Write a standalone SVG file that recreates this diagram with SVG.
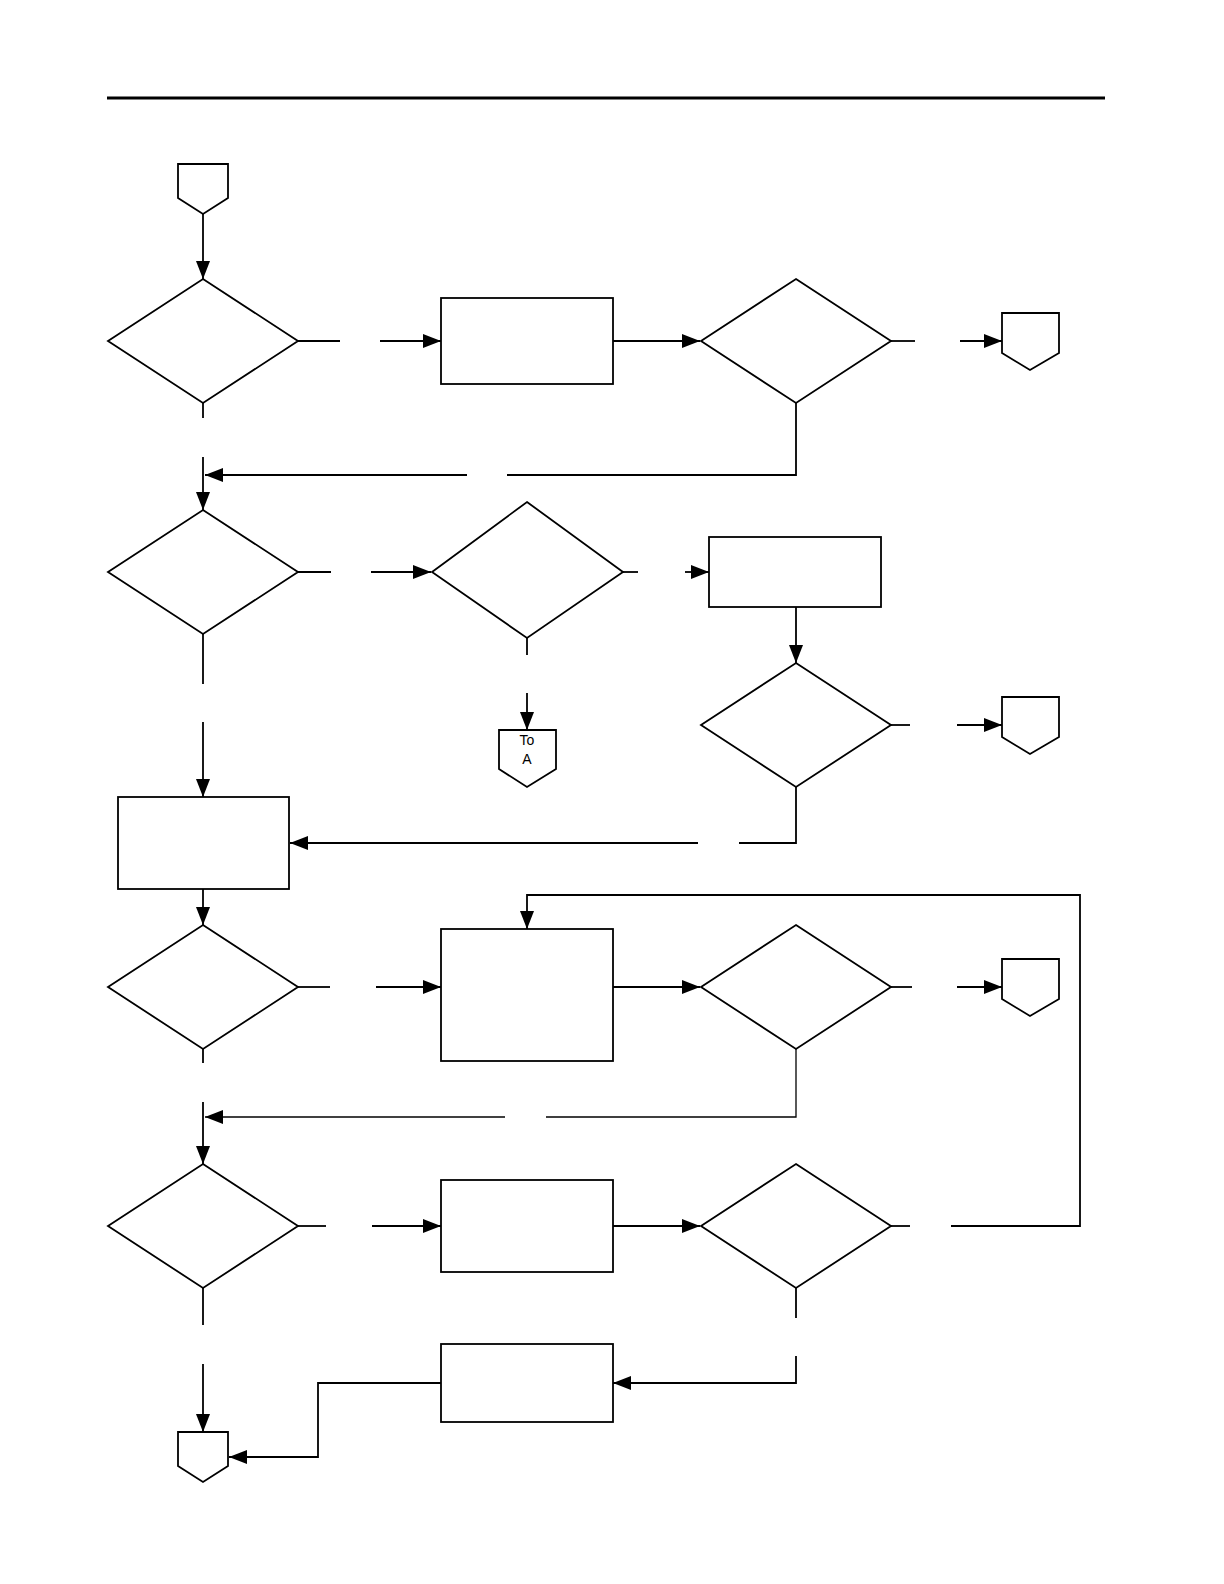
<svg xmlns="http://www.w3.org/2000/svg" width="1224" height="1584" viewBox="0 0 1224 1584">
<style>
.s{fill:#fff;stroke:#000;stroke-width:1.8}
.c{fill:none;stroke:#000;stroke-width:1.8}
.t{font-family:"Liberation Sans",Arial,sans-serif;font-size:14px;text-anchor:middle}
</style>
<defs>
<marker id="a" markerUnits="userSpaceOnUse" markerWidth="20" markerHeight="14" refX="18" refY="7" orient="auto">
<path d="M0,0 L18,7 L0,14 Z" fill="#000"/>
</marker>
</defs>
<rect width="1224" height="1584" fill="#fff"/>
<line x1="107" y1="98" x2="1105" y2="98" stroke="#000" stroke-width="3"/>
<g id="connectors">
<path class="c" d="M203,214 V279" marker-end="url(#a)"/>
<path class="c" d="M298,341 H340"/>
<path class="c" d="M380,341 H441" marker-end="url(#a)"/>
<path class="c" d="M613,341 H700" marker-end="url(#a)"/>
<path class="c" d="M891,341 H915"/>
<path class="c" d="M960,341 H1002" marker-end="url(#a)"/>
<path class="c" d="M796,403 V475 H507"/>
<path class="c" d="M467,475 H205" marker-end="url(#a)"/>
<path class="c" d="M203,403 V418"/>
<path class="c" d="M203,457 V510" marker-end="url(#a)"/>
<path class="c" d="M298,572 H331"/>
<path class="c" d="M371,572 H431" marker-end="url(#a)"/>
<path class="c" d="M623,572 H638"/>
<path class="c" d="M685,572 H709" marker-end="url(#a)"/>
<path class="c" d="M796,607 V663" marker-end="url(#a)"/>
<path class="c" d="M891,725 H910"/>
<path class="c" d="M957,725 H1002" marker-end="url(#a)"/>
<path class="c" d="M796,787 V843 H739"/>
<path class="c" d="M698,843 H290" marker-end="url(#a)"/>
<path class="c" d="M527,638 V655"/>
<path class="c" d="M527,693 V730" marker-end="url(#a)"/>
<path class="c" d="M203,634 V684"/>
<path class="c" d="M203,722 V797" marker-end="url(#a)"/>
<path class="c" d="M203,889 V925" marker-end="url(#a)"/>
<path class="c" d="M298,987 H330"/>
<path class="c" d="M376,987 H441" marker-end="url(#a)"/>
<path class="c" d="M613,987 H700" marker-end="url(#a)"/>
<path class="c" d="M891,987 H912"/>
<path class="c" d="M957,987 H1002" marker-end="url(#a)"/>
<path class="c" d="M796,1049 V1117 H546" style="stroke-width:1.3"/>
<path class="c" d="M505,1117 H205" style="stroke-width:1.3" marker-end="url(#a)"/>
<path class="c" d="M203,1049 V1063"/>
<path class="c" d="M203,1102 V1164" marker-end="url(#a)"/>
<path class="c" d="M298,1226 H326"/>
<path class="c" d="M372,1226 H441" marker-end="url(#a)"/>
<path class="c" d="M613,1226 H700" marker-end="url(#a)"/>
<path class="c" d="M891,1226 H910"/>
<path class="c" d="M951,1226 H1080 V895 H527 V929" marker-end="url(#a)"/>
<path class="c" d="M796,1288 V1318"/>
<path class="c" d="M796,1356 V1383 H613" marker-end="url(#a)"/>
<path class="c" d="M441,1383 H318 V1457 H229" marker-end="url(#a)"/>
<path class="c" d="M203,1288 V1325"/>
<path class="c" d="M203,1364 V1432" marker-end="url(#a)"/>
</g>
<g id="start"><path class="s" d="M178,164 H228 V198 L203,214 L178,198 Z"/></g>
<g id="d1"><path class="s" d="M203,279 L298,341 L203,403 L108,341 Z"/></g>
<g id="r1"><rect class="s" x="441" y="298" width="172" height="86"/></g>
<g id="d2"><path class="s" d="M796,279 L891,341 L796,403 L701,341 Z"/></g>
<g id="p1"><path class="s" d="M1002,313 H1059 V353 L1030,370 L1002,353 Z"/></g>
<g id="d3"><path class="s" d="M203,510 L298,572 L203,634 L108,572 Z"/></g>
<g id="d4"><path class="s" d="M527,502 L623,572 L527,638 L432,572 Z"/></g>
<g id="r2"><rect class="s" x="709" y="537" width="172" height="70"/></g>
<g id="d5"><path class="s" d="M796,663 L891,725 L796,787 L701,725 Z"/></g>
<g id="p2"><path class="s" d="M1002,697 H1059 V737 L1030,754 L1002,737 Z"/></g>
<g id="toA"><path class="s" d="M499,730 H556 V769 L527,787 L499,769 Z"/>
<text class="t" x="527" y="745">To</text><text class="t" x="527" y="764">A</text></g>
<g id="r3"><rect class="s" x="118" y="797" width="171" height="92"/></g>
<g id="d6"><path class="s" d="M203,925 L298,987 L203,1049 L108,987 Z"/></g>
<g id="r4"><rect class="s" x="441" y="929" width="172" height="132"/></g>
<g id="d7"><path class="s" d="M796,925 L891,987 L796,1049 L701,987 Z"/></g>
<g id="p3"><path class="s" d="M1002,959 H1059 V999 L1030,1016 L1002,999 Z"/></g>
<g id="d8"><path class="s" d="M203,1164 L298,1226 L203,1288 L108,1226 Z"/></g>
<g id="r5"><rect class="s" x="441" y="1180" width="172" height="92"/></g>
<g id="d9"><path class="s" d="M796,1164 L891,1226 L796,1288 L701,1226 Z"/></g>
<g id="r6"><rect class="s" x="441" y="1344" width="172" height="78"/></g>
<g id="end"><path class="s" d="M178,1432 H228 V1466 L203,1482 L178,1466 Z"/></g>
</svg>
